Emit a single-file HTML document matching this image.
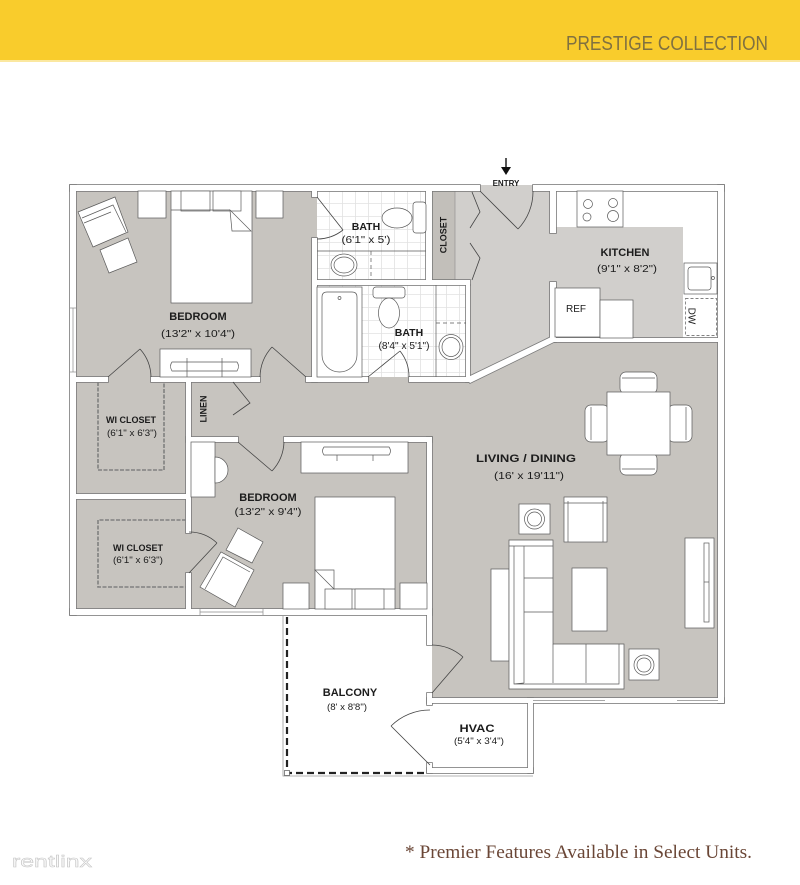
<!DOCTYPE html>
<html><head><meta charset="utf-8">
<style>html,body{margin:0;padding:0;background:#fff}svg{display:block}</style>
</head>
<body>
<svg width="800" height="885" viewBox="0 0 800 885" xmlns="http://www.w3.org/2000/svg" font-family="'Liberation Sans', sans-serif">
<defs>
<pattern id="tile" x="317" y="191" width="13" height="13" patternUnits="userSpaceOnUse">
<rect width="13" height="13" fill="#fff"/>
<path d="M12.5 0V13M0 12.5H13" stroke="#e2e2e2" stroke-width="0.8"/>
</pattern>
<g id="W">
<rect x="70" y="185" width="410" height="6"/>
<rect x="533" y="185" width="191" height="6"/>
<rect x="70" y="185" width="6" height="430"/>
<rect x="718" y="185" width="6" height="518"/>
<rect x="70" y="609" width="362" height="6"/>
<rect x="427" y="698" width="297" height="5"/>
<rect x="312" y="191" width="5" height="6"/>
<rect x="312" y="238" width="5" height="144"/>
<rect x="76" y="377" width="32" height="5"/>
<rect x="151" y="377" width="109" height="5"/>
<rect x="306" y="377" width="62" height="5"/>
<rect x="409" y="377" width="61" height="5"/>
<rect x="317" y="280" width="153" height="5"/>
<rect x="426" y="191" width="6" height="89"/>
<rect x="466" y="285" width="4" height="97"/>
<polygon points="466,378 551,337 556,341 470,383"/>
<rect x="550" y="191" width="6" height="42"/>
<rect x="550" y="282" width="6" height="60"/>
<rect x="552" y="338" width="166" height="4"/>
<rect x="186" y="382" width="5" height="151"/>
<rect x="186" y="573" width="5" height="36"/>
<rect x="76" y="494" width="110" height="5"/>
<rect x="186" y="437" width="52" height="5"/>
<rect x="284" y="437" width="148" height="5"/>
<rect x="427" y="437" width="5" height="208"/>
<rect x="427" y="693" width="5" height="12"/>
<rect x="427" y="763" width="5" height="10"/>
<rect x="427" y="768" width="106" height="5"/>
<rect x="528" y="698" width="5" height="75"/>
</g>
</defs>

<!-- header -->
<rect width="800" height="60" fill="#f9cc2c"/>
<rect y="60" width="800" height="2" fill="#fbe8a0"/>
<text x="566" y="50" font-size="20" fill="#807140" textLength="202" lengthAdjust="spacingAndGlyphs">PRESTIGE COLLECTION</text>

<!-- floors -->
<rect x="70" y="185" width="654" height="518" fill="#c7c4bf"/>
<rect x="60" y="615" width="372" height="100" fill="#fff"/>
<polygon points="432,185 550,185 550,227 683,227 683,342 552,342 470,382 466,382 466,285 432,285" fill="#d1cfcc"/>
<rect x="317" y="191" width="109" height="89" fill="url(#tile)"/>
<rect x="317" y="285" width="149" height="92" fill="url(#tile)"/>
<rect x="556" y="191" width="162" height="36" fill="#fff"/>
<rect x="683" y="227" width="35" height="115" fill="#fff"/>
<rect x="432" y="191" width="23" height="89" fill="#c2bfba" stroke="#8a8a8a" stroke-width="0.6"/>

<!-- walls -->
<use href="#W" fill="none" stroke="#7a7a7a" stroke-width="1.6"/>
<use href="#W" fill="#fff" stroke="none"/>

<!-- windows -->
<g stroke="#8a8a8a" stroke-width="0.7" fill="none">
<line x1="73" y1="308" x2="73" y2="372"/>
<line x1="70" y1="308" x2="76" y2="308"/><line x1="70" y1="372" x2="76" y2="372"/>
<line x1="200" y1="612" x2="263" y2="612"/>
<line x1="200" y1="609" x2="200" y2="615"/><line x1="263" y1="609" x2="263" y2="615"/>
<line x1="533" y1="700.5" x2="605" y2="700.5"/>
<line x1="677" y1="700.5" x2="718" y2="700.5"/>
</g>

<!-- balcony -->
<path d="M283 615 V776 H533" fill="none" stroke="#9a9a9a" stroke-width="0.8"/>
<path d="M287 617 V773 H427" fill="none" stroke="#222" stroke-width="2.2" stroke-dasharray="7 4"/>
<rect x="284.5" y="770.5" width="5" height="5" fill="#fff" stroke="#555" stroke-width="0.7"/>

<!-- closets dashed -->
<g fill="none" stroke="#808080" stroke-width="1.6" stroke-dasharray="4 1.5">
<path d="M98 382 V470 H164 V382"/>
<path d="M186 520 H98 V587 H186"/>
</g>

<!-- furniture -->
<g fill="#fff" stroke="#5a5a5a" stroke-width="0.7">
<!-- bedroom 1 -->
<rect x="138" y="191" width="28" height="27"/>
<rect x="256" y="191" width="27" height="27"/>
<rect x="171" y="191" width="81" height="112"/>
<rect x="181" y="191" width="29" height="20"/>
<rect x="213" y="191" width="28" height="20"/>
<line x1="171" y1="210" x2="230" y2="210"/>
<polygon points="230,210 251,231 232,231"/>
<polygon points="78,212 115,197 128,232 93,247"/>
<polyline points="82,218 113,205 126,232" fill="none"/>
<polyline points="84,223 111,212" fill="none"/>
<polygon points="100,250 128,238 137,262 109,273"/>
<rect x="160" y="349" width="91" height="28"/>
<path d="M172 362 H237 Q240 366 237 371 H172 Q169 366 172 362Z"/>
<line x1="187" y1="358" x2="187" y2="377"/><line x1="222" y1="358" x2="222" y2="377"/>

<!-- bedroom 2 -->
<rect x="191" y="442" width="24" height="55"/>
<path d="M215 457 A13 13 0 0 1 215 483Z"/>
<rect x="301" y="442" width="107" height="31"/>
<path d="M324 447 H389 Q392 451 389 455 H324 Q321 451 324 447Z"/>
<line x1="337" y1="455" x2="337" y2="461"/><line x1="373" y1="455" x2="373" y2="461"/>
<rect x="315" y="497" width="80" height="112"/>
<line x1="334" y1="589" x2="395" y2="589"/>
<rect x="325" y="589" width="27" height="20"/>
<rect x="355" y="589" width="29" height="20"/>
<polygon points="315,570 334,570 334,589"/>
<rect x="283" y="583" width="26" height="26"/>
<rect x="400" y="583" width="27" height="26"/>
<polygon points="200,587 221,552 254,570 235,607"/>
<polyline points="205,589 223,557 250,572" fill="none"/>
<polygon points="226,550 238,528 263,542 252,563"/>

<!-- kitchen -->
<rect x="577" y="191" width="46" height="36"/>
<circle cx="588" cy="204" r="4.5"/><circle cx="587" cy="217" r="4"/>
<circle cx="613" cy="203" r="4.5"/><circle cx="613" cy="216" r="5.5"/>
<rect x="684" y="263" width="33" height="31"/>
<rect x="688" y="267" width="23" height="23" rx="3"/>
<circle cx="713" cy="278" r="1.5"/>
<rect x="685.5" y="298.5" width="31" height="37" fill="none" stroke-dasharray="3 2"/>
<rect x="555" y="288" width="45" height="49"/>
<rect x="600" y="300" width="33" height="38"/>

<!-- bath 1 -->
<line x1="317" y1="251" x2="426" y2="251"/>
<line x1="371" y1="251" x2="371" y2="280" stroke-dasharray="4 3"/>
<ellipse cx="344" cy="265" rx="13" ry="11"/>
<ellipse cx="344" cy="265" rx="10" ry="8"/>
<rect x="413" y="202" width="13" height="31" rx="3"/>
<ellipse cx="397" cy="218" rx="15" ry="10"/>

<!-- bath 2 -->
<rect x="317" y="287" width="45" height="90"/>
<path d="M327 292 H352 Q357 292 357 297 V355 A17.5 17 0 0 1 322 355 V297 Q322 292 327 292Z"/>
<circle cx="339.5" cy="298" r="1.5"/>
<rect x="373" y="287" width="32" height="11" rx="3"/>
<ellipse cx="389" cy="313" rx="10.5" ry="15"/>
<line x1="436" y1="285" x2="436" y2="377"/>
<line x1="436" y1="323" x2="466" y2="323" stroke-dasharray="4 3"/>
<ellipse cx="451" cy="347" rx="12" ry="12.5"/>
<ellipse cx="451" cy="347" rx="9" ry="9.5"/>

<!-- living / dining -->
<rect x="620" y="372" width="37" height="22" rx="6"/>
<line x1="622" y1="378" x2="655" y2="378"/>
<rect x="620" y="453" width="37" height="22" rx="6"/>
<line x1="622" y1="469" x2="655" y2="469"/>
<rect x="585" y="405" width="24" height="37" rx="6"/>
<line x1="591" y1="407" x2="591" y2="440"/>
<rect x="668" y="405" width="24" height="37" rx="6"/>
<line x1="686" y1="407" x2="686" y2="440"/>
<rect x="607" y="392" width="63" height="63"/>
<rect x="519" y="504" width="31" height="30"/>
<circle cx="534.5" cy="519" r="10"/><circle cx="534.5" cy="519" r="7"/>
<rect x="564" y="497" width="43" height="45"/>
<line x1="568" y1="501" x2="568" y2="542"/><line x1="603" y1="501" x2="603" y2="542"/>
<line x1="564" y1="503" x2="607" y2="503"/>
<rect x="491" y="569" width="18" height="92"/>
<path d="M509 540 H553 V644 H624 V689 H509 Z"/>
<path d="M509 546 H553 M514 546 V684 H619 V644 M524 546 V683 M524 578 H553 M524 612 H553 M524 683 L514 684 M553 644 V683 M586 644 V683" fill="none"/>
<rect x="572" y="568" width="35" height="63"/>
<rect x="629" y="649" width="30" height="31"/>
<circle cx="644" cy="665" r="10"/><circle cx="644" cy="665" r="7"/>
<rect x="685" y="538" width="29" height="90"/>
<rect x="704" y="543" width="5" height="79"/>
<line x1="704" y1="582" x2="709" y2="582"/>
</g>

<!-- doors -->
<g fill="none" stroke="#444" stroke-width="0.8">
<path d="M480 191 L518 229 M518 229 A54 54 0 0 0 533 191"/>
<path d="M317 197 L343 230 M343 230 A42 42 0 0 1 317 239"/>
<path d="M368 377 L400 351 M400 351 A41 41 0 0 1 409 377"/>
<path d="M108 377 L140 349 M140 349 A43 43 0 0 1 151 377"/>
<path d="M306 377 L272 347 M272 347 A45.5 45.5 0 0 0 260 377"/>
<path d="M238 442 L272 471 M272 471 A45 45 0 0 0 284 442"/>
<path d="M189 573 L217 543 M217 543 A41 41 0 0 0 189 532"/>
<path d="M432 693 L463 657 M463 657 A48 48 0 0 0 432 645"/>
<path d="M430 765 L391 726 M391 726 A55 55 0 0 1 430 710"/>
<polyline points="233,382 250,403 233,415"/>
<polyline points="472,192 480,212 470,228"/>
<polyline points="470,243 480,258 472,280"/>
</g>

<!-- entry arrow -->
<line x1="506" y1="158" x2="506" y2="170" stroke="#111" stroke-width="1.4"/>
<polygon points="501,167 511,167 506,175" fill="#111"/>

<!-- labels -->
<g fill="#1c1c1c" text-anchor="middle">
<text x="506" y="186" font-size="8" font-weight="bold">ENTRY</text>
<text x="198" y="320" font-size="11" font-weight="bold">BEDROOM</text>
<text x="198" y="337" font-size="10" textLength="74" lengthAdjust="spacingAndGlyphs">(13'2" x 10'4")</text>
<text x="366" y="230" font-size="10.5" font-weight="bold">BATH</text>
<text x="366" y="243" font-size="10" textLength="49" lengthAdjust="spacingAndGlyphs">(6'1" x 5')</text>
<text x="409" y="336" font-size="10.5" font-weight="bold">BATH</text>
<text x="404" y="349" font-size="10" textLength="51" lengthAdjust="spacingAndGlyphs">(8'4" x 5'1")</text>
<text transform="translate(446.5,235) rotate(-90)" font-size="9" font-weight="bold">CLOSET</text>
<text x="625" y="256" font-size="11" font-weight="bold">KITCHEN</text>
<text x="627" y="272" font-size="10" textLength="60" lengthAdjust="spacingAndGlyphs">(9'1" x 8'2")</text>
<text x="576" y="312" font-size="10">REF</text>
<text transform="translate(688.5,316) rotate(90)" font-size="10">DW</text>
<text transform="translate(206.5,409) rotate(-90)" font-size="9" font-weight="bold">LINEN</text>
<text x="131" y="423" font-size="9" font-weight="bold">WI CLOSET</text>
<text x="132" y="436" font-size="9.5" textLength="50" lengthAdjust="spacingAndGlyphs">(6'1" x 6'3")</text>
<text x="138" y="551" font-size="9" font-weight="bold">WI CLOSET</text>
<text x="138" y="563" font-size="9.5" textLength="50" lengthAdjust="spacingAndGlyphs">(6'1" x 6'3")</text>
<text x="268" y="501" font-size="11" font-weight="bold">BEDROOM</text>
<text x="268" y="515" font-size="10" textLength="67" lengthAdjust="spacingAndGlyphs">(13'2" x 9'4")</text>
<text x="526" y="462" font-size="11" font-weight="bold" textLength="100" lengthAdjust="spacingAndGlyphs">LIVING  / DINING</text>
<text x="529" y="479" font-size="10" textLength="70" lengthAdjust="spacingAndGlyphs">(16' x 19'11")</text>
<text x="350" y="696" font-size="11" font-weight="bold">BALCONY</text>
<text x="347" y="710" font-size="9.5" textLength="40" lengthAdjust="spacingAndGlyphs">(8' x 8'8")</text>
<text x="477" y="732" font-size="11" font-weight="bold" textLength="35" lengthAdjust="spacingAndGlyphs">HVAC</text>
<text x="479" y="744" font-size="9.5" textLength="50" lengthAdjust="spacingAndGlyphs">(5'4" x 3'4")</text>
</g>

<!-- footer -->
<text x="405" y="858" font-family="'Liberation Serif', serif" font-size="19" fill="#6a4636" textLength="347" lengthAdjust="spacingAndGlyphs">* Premier Features Available in Select Units.</text>
<text x="12" y="867" font-size="17" fill="#fafafa" stroke="#c4c4c4" stroke-width="0.5" textLength="80" lengthAdjust="spacingAndGlyphs">rentlinx</text>
</svg>
</body></html>
